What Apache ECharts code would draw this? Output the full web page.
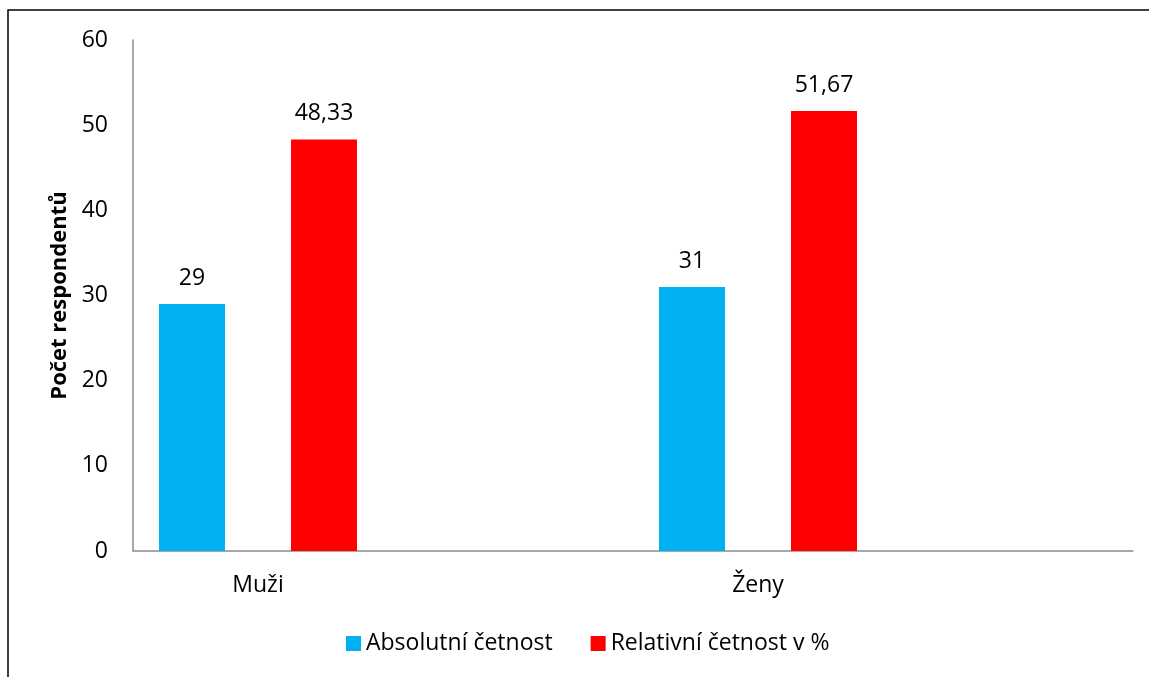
<!DOCTYPE html>
<html>
<head>
<meta charset="utf-8">
<script src="https://cdn.jsdelivr.net/npm/echarts@6/dist/echarts.min.js"></script>
<style>
  html, body { margin: 0; padding: 0; background: #fff; }
  #chart { width: 1149px; height: 677px; }
</style>
</head>
<body>
<div id="chart"></div>
<script>
// Respondents by gender: absolute count and relative share
const categories = ['Muži', 'Ženy'];
const absoluteValues = [29, 31];
const relativeValues = [48.33, 51.67];
const seriesNames = ['Absolutní četnost', 'Relativní četnost v %'];
const yAxisName = 'Počet respondentů';

// Each group occupies the left half of its slot, so a blank slot follows every category
const axisData = [];
const absData = [];
const relData = [];
categories.forEach((c, i) => {
  axisData.push(c, '');
  absData.push(absoluteValues[i], null);
  relData.push(relativeValues[i], null);
});

const FONT = '"Open Sans", "Noto Sans", sans-serif';
const FS = 23;
const fmt = p => String(p.value).replace('.', ',');

const chart = echarts.init(document.getElementById('chart'), null, { renderer: 'canvas' });
chart.setOption({
  animation: false,
  backgroundColor: '#ffffff',
  textStyle: { fontFamily: FONT },
  graphic: [{
    type: 'rect',
    shape: { x: 8, y: 10, width: 1200, height: 700 },
    style: { fill: 'none', stroke: '#000', lineWidth: 1.5 },
    silent: true
  }],
  grid: { left: 133, right: 16, top: 40, bottom: 126 },
  legend: {
    bottom: 17,
    left: 341,
    itemWidth: 15,
    itemHeight: 15,
    itemGap: 38,
    icon: 'rect',
    textStyle: { fontFamily: FONT, fontSize: FS, color: '#000' },
    data: seriesNames
  },
  xAxis: {
    type: 'category',
    data: axisData,
    axisLine: { lineStyle: { color: '#8c8c8c', width: 1.5 } },
    axisTick: { show: false },
    axisLabel: { fontSize: FS, color: '#000', margin: 23, interval: 0, fontFamily: FONT }
  },
  yAxis: {
    type: 'value',
    min: 0,
    max: 60,
    interval: 10,
    name: yAxisName,
    nameLocation: 'middle',
    nameGap: 60,
    nameTextStyle: { fontSize: 22, fontWeight: 'bold', color: '#000', fontFamily: FONT },
    axisLine: { show: true, lineStyle: { color: '#8c8c8c', width: 1.5 } },
    axisTick: { show: false },
    splitLine: { show: false },
    axisLabel: { fontSize: FS, color: '#000', margin: 25, fontFamily: FONT }
  },
  series: [
    {
      name: seriesNames[0],
      type: 'bar',
      data: absData,
      barWidth: 66,
      barGap: '100%',
      itemStyle: { color: '#00B0F0' },
      label: { show: true, position: 'top', distance: 14, fontSize: FS, color: '#000', formatter: fmt, fontFamily: FONT }
    },
    {
      name: seriesNames[1],
      type: 'bar',
      data: relData,
      barWidth: 66,
      barGap: '100%',
      itemStyle: { color: '#FF0000' },
      label: { show: true, position: 'top', distance: 14, fontSize: FS, color: '#000', formatter: fmt, fontFamily: FONT }
    }
  ]
});
</script>
</body>
</html>
